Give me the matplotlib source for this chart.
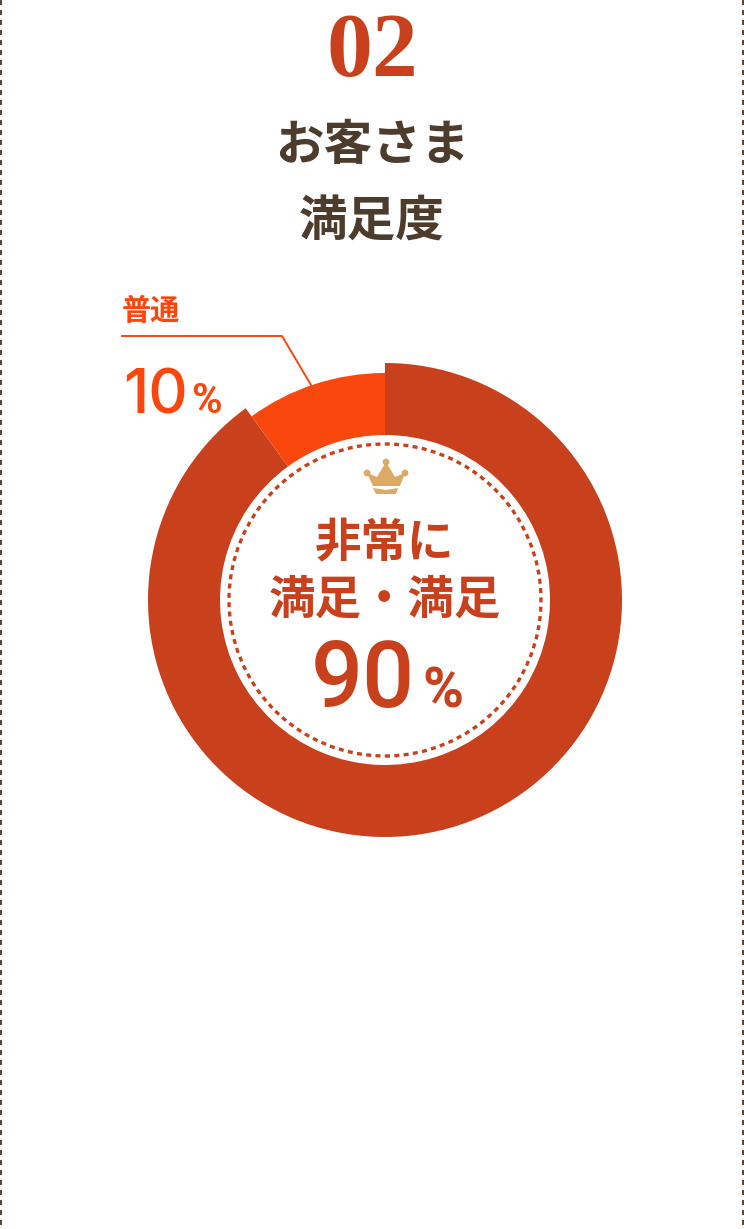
import matplotlib
matplotlib.use('Agg')
import matplotlib.pyplot as plt
from matplotlib.patches import Circle, Polygon

plt.rcParams['font.family'] = ['Noto Sans CJK JP', 'DejaVu Sans']

# chart values
labels = ['非常に満足・満足', '普通']
shares = [90, 10]
number = '02'
title_lines = ['お客さま', '満足度']

RED = '#c8401c'
ORANGE = '#fa470d'
BROWN = '#4d3c2c'
GOLD = '#dcaa62'
H = 1229

fig = plt.figure(figsize=(7.44, 12.29), dpi=100)
ax = fig.add_axes([0, 0, 1, 1])

cx, cy = 385, H - 600
wedges, _ = ax.pie(shares, colors=[RED, ORANGE], startangle=90, counterclock=False,
                   center=(cx, cy), radius=237, frame=True,
                   wedgeprops=dict(width=72, linewidth=0))
wedges[1].set_radius(227)
wedges[1].set_width(62)
ax.set_xlim(0, 744)
ax.set_ylim(0, H)
ax.set_aspect('equal')
ax.axis('off')

# dashed inner ring
ax.add_patch(Circle((cx, cy), 156, fill=False, ec=RED, lw=2.4, ls=(0, (1.5, 1.3))))

# side borders of the page
for x in [1, 743]:
    ax.plot([x, x], [H, 0], color='#5a4632', lw=1.44, ls=(0, (2.5, 2.5)))

# crown
ax.add_patch(Polygon([(367, H-473), (377, H-477), (386, H-462), (395, H-477), (405, H-473),
                      (400, H-486), (373, H-486)],
                     closed=True, fc=GOLD, ec='none'))
for px, py, r in [(367, 473, 3.4), (386, 462, 3.4), (405, 473, 3.4)]:
    ax.add_patch(Circle((px, H - py), r, fc=GOLD, ec='none'))
ax.add_patch(Polygon([(373, H-488), (386, H-490), (398, H-488), (396, H-494), (376, H-494)],
                     closed=True, fc=GOLD, ec='none'))

# heading
ax.text(372, H - 54, number, family=['Liberation Serif'], fontsize=66, fontweight='bold',
        color=RED, ha='center', va='center')
ax.text(372, H - 146, title_lines[0], fontsize=35, fontweight='bold', color=BROWN,
        ha='center', va='center')
ax.text(372, H - 222, title_lines[1], fontsize=35, fontweight='bold', color=BROWN,
        ha='center', va='center')

# callout
ax.plot([122, 282, 311], [H - 336, H - 336, H - 385], color=ORANGE, lw=1.4)
ax.text(151, H - 311, labels[1], fontsize=21, fontweight='bold', color=ORANGE,
        ha='center', va='center')
ax.text(123, H - 413, str(shares[1]), family=['Inter'], fontsize=44, fontweight='medium',
        color=ORANGE, ha='left', va='baseline')
ax.text(191, H - 413, '%', family=['Roboto'], fontsize=30, fontweight='bold', color=ORANGE,
        ha='left', va='baseline')

# centre text
ax.text(385, H - 543, '非常に', fontsize=33.5, fontweight='bold', color=RED,
        ha='center', va='center')
ax.text(385, H - 600, '満足・満足', fontsize=33.5, fontweight='bold', color=RED,
        ha='center', va='center')
ax.text(311, H - 707, str(shares[0]), family=['Roboto'], fontsize=66, fontweight='medium',
        color=RED, ha='left', va='baseline')
ax.text(422, H - 707, '%', family=['Roboto'], fontsize=40, fontweight='bold', color=RED,
        ha='left', va='baseline')

fig.savefig('out.png', dpi=100)
